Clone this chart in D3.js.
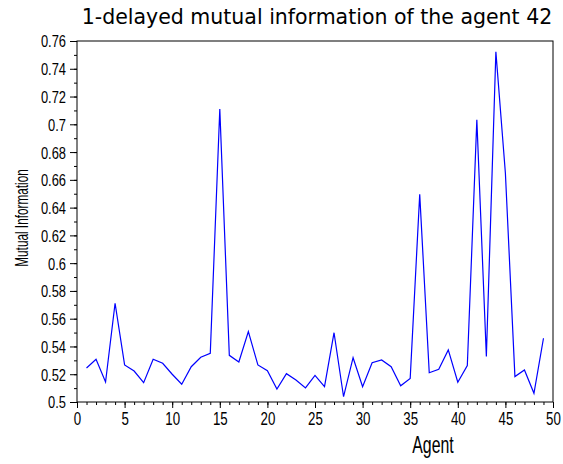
<!DOCTYPE html>
<html>
<head>
<meta charset="utf-8">
<script src="https://cdn.jsdelivr.net/npm/d3@7"></script>
<style>
  body { margin: 0; background: #fff; }
  .tick text { font-family: "Liberation Sans Narrow", "Liberation Sans", Arial, sans-serif; }
</style>
</head>
<body>
<div id="chart"></div>
<script>
// agent index 1..49
var agents = [];
for (let i = 1; i <= 49; i++) agents.push(i);

// mutual information values
var miValues = [
  0.5245, 0.5308, 0.5144, 0.5711, 0.5267, 0.5223, 0.5139, 0.5308, 0.5279, 0.5200,
  0.5128, 0.5254, 0.5322, 0.5351, 0.7110, 0.5336, 0.5288, 0.5507, 0.5267, 0.5226,
  0.5094, 0.5204, 0.5159, 0.5101, 0.5192, 0.5110, 0.5499, 0.5038, 0.5319, 0.5110,
  0.5283, 0.5303, 0.5254, 0.5117, 0.5170, 0.6496, 0.5211, 0.5235, 0.5375, 0.5142,
  0.5262, 0.7032, 0.5327, 0.7522, 0.6648, 0.5183, 0.5231, 0.5063, 0.5459
];

var yTicks = [0.5, 0.52, 0.54, 0.56, 0.58, 0.6, 0.62, 0.64, 0.66, 0.68, 0.7, 0.72, 0.74, 0.76];
var xTicks = [0, 5, 10, 15, 20, 25, 30, 35, 40, 45, 50];

var W = 563, H = 464;
var margin = { top: 41, right: 10, bottom: 62, left: 77 };
var width = 553 - margin.left,
  height = 402 - margin.top;

// squeeze factor to fake a narrow font
var narrow = 0.76;
var narrowFont = "Liberation Sans Narrow, Liberation Sans, Arial, sans-serif";

var svg = d3.select("#chart")
  .append("svg")
  .attr("width", W)
  .attr("height", H);

var g = svg.append("g")
  .attr("transform", "translate(" + margin.left + "," + margin.top + ")");

var x = d3.scaleLinear().domain([0, 50]).range([0, width]);
var y = d3.scaleLinear().domain([0.5, 0.76]).range([height, 0]);

// frame
g.append("rect")
  .attr("width", width)
  .attr("height", height)
  .attr("fill", "none")
  .attr("stroke", "black")
  .attr("stroke-width", 1);

// minor ticks
g.append("g")
  .attr("transform", "translate(0," + height + ")")
  .call(d3.axisBottom(x).tickValues(d3.range(0, 51, 1)).tickSize(3).tickFormat(""))
  .call(a => a.select(".domain").remove());
g.append("g")
  .call(d3.axisLeft(y).tickValues(d3.range(0.5, 0.7601, 0.01)).tickSize(3).tickFormat(""))
  .call(a => a.select(".domain").remove());

// major ticks + labels
var xAxis = g.append("g")
  .attr("transform", "translate(0," + height + ")")
  .call(d3.axisBottom(x).tickValues(xTicks).tickSize(6).tickPadding(5).tickFormat(d3.format("d")));
xAxis.select(".domain").remove();
xAxis.selectAll("text")
  .attr("font-size", 17.5)
  .attr("fill", "#000")
  .attr("transform", "scale(" + narrow + ",1)");

var yAxis = g.append("g")
  .call(d3.axisLeft(y).tickValues(yTicks).tickSize(7).tickPadding(4)
    .tickFormat(function (d) { return String(+d.toFixed(2)); }));
yAxis.select(".domain").remove();
yAxis.selectAll("text")
  .attr("font-size", 17)
  .attr("fill", "#000")
  .attr("dy", "0.35em")
  .attr("x", -11 / narrow)
  .attr("transform", "scale(" + narrow + ",1)");

// data line
var line = d3.line()
  .x(function (d, i) { return x(agents[i]); })
  .y(function (d) { return y(d); });

g.append("path")
  .datum(miValues)
  .attr("d", line)
  .attr("fill", "none")
  .attr("stroke", "#0000ff")
  .attr("stroke-width", 1.2);

// title
svg.append("text")
  .attr("x", 317)
  .attr("y", 24)
  .attr("text-anchor", "middle")
  .attr("font-family", "DejaVu Sans, Verdana, sans-serif")
  .attr("font-size", 20.5)
  .text("1-delayed mutual information of the agent 42");

// axis labels
svg.append("text")
  .attr("transform", "translate(433,453) scale(0.66,1)")
  .attr("text-anchor", "middle")
  .attr("font-family", narrowFont)
  .attr("font-size", 24)
  .text("Agent");

svg.append("text")
  .attr("transform", "translate(28,218) rotate(-90) scale(0.62,1)")
  .attr("text-anchor", "middle")
  .attr("font-family", narrowFont)
  .attr("font-size", 19)
  .text("Mutual Information");
</script>
</body>
</html>
